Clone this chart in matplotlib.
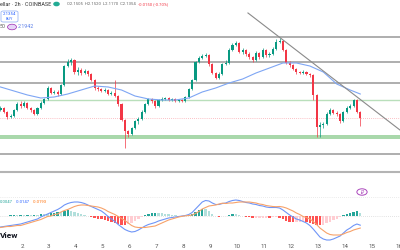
import matplotlib
matplotlib.use('Agg')
import matplotlib.pyplot as plt
from matplotlib.patches import FancyBboxPatch, Circle
import numpy as np

plt.rcParams['font.family'] = ['Roboto', 'DejaVu Sans']

# 2h candles, x axis in days of the month
start_day = 1.2
step = 0.125
first_open = 2.1550
closes = [2.1599, 2.1501, 2.1379, 2.1403, 2.1550, 2.1697, 2.1648, 2.1722, 2.1599, 2.1550,
          2.1452, 2.1599, 2.1722, 2.1820, 2.2089, 2.1967, 2.1991, 2.1942, 2.2162, 2.2628,
          2.2726, 2.2775, 2.2481, 2.2530, 2.2457, 2.2506, 2.2432, 2.2285, 2.2089, 2.2065,
          2.2016, 2.2040, 2.1942, 2.1967, 2.1893, 2.1697, 2.1305, 2.1036, 2.0962, 2.1109,
          2.1281, 2.1330, 2.1501, 2.1697, 2.1820, 2.1771, 2.1648, 2.1795, 2.1820, 2.1844,
          2.1795, 2.1820, 2.1771, 2.1795, 2.1771, 2.1869, 2.2065, 2.2285, 2.2726, 2.2824,
          2.2873, 2.2897, 2.2677, 2.2457, 2.2334, 2.2432, 2.2677, 2.2702, 2.3020, 2.3143,
          2.3192, 2.2971, 2.3020, 2.2922, 2.2849, 2.2775, 2.2947, 2.2849, 2.3020, 2.2898,
          2.2922, 2.3045, 2.3216, 2.3240, 2.3020, 2.2702, 2.2653, 2.2555, 2.2481, 2.2457,
          2.2481, 2.2432, 2.2408, 2.1918, 2.1134, 2.1183, 2.1207, 2.1452, 2.1550, 2.1477,
          2.1452, 2.1281, 2.1501, 2.1599, 2.1648, 2.1795, 2.1505, 2.1354]
highs = [2.1640, 2.1625, 2.1530, 2.1450, 2.1580, 2.1740, 2.1760, 2.1770, 2.1750, 2.1630,
         2.1580, 2.1620, 2.1760, 2.1850, 2.2130, 2.2110, 2.2050, 2.2030, 2.2190, 2.2660,
         2.2800, 2.2830, 2.2800, 2.2600, 2.2580, 2.2560, 2.2540, 2.2460, 2.2310, 2.2130,
         2.2100, 2.2080, 2.2070, 2.2010, 2.2285, 2.1920, 2.1720, 2.1330, 2.1060, 2.1140,
         2.1310, 2.1370, 2.1540, 2.1730, 2.1850, 2.1850, 2.1790, 2.1830, 2.1860, 2.1880,
         2.1870, 2.1850, 2.1840, 2.1830, 2.1810, 2.1900, 2.2100, 2.2320, 2.2760, 2.2880,
         2.2920, 2.2940, 2.2920, 2.2700, 2.2480, 2.2470, 2.2700, 2.2780, 2.3060, 2.3200,
         2.3240, 2.3210, 2.3070, 2.3050, 2.2960, 2.2880, 2.2990, 2.2980, 2.3060, 2.3040,
         2.2960, 2.3090, 2.3290, 2.3314, 2.3260, 2.3040, 2.2740, 2.2680, 2.2580, 2.2510,
         2.2520, 2.2510, 2.2460, 2.2430, 2.1940, 2.1260, 2.1250, 2.1490, 2.1600, 2.1580,
         2.1520, 2.1480, 2.1530, 2.1640, 2.1690, 2.1830, 2.1810, 2.1520]
lows = [2.1520, 2.1470, 2.1330, 2.1350, 2.1380, 2.1530, 2.1610, 2.1620, 2.1570, 2.1510,
        2.1420, 2.1430, 2.1580, 2.1700, 2.1800, 2.1930, 2.1940, 2.1900, 2.1920, 2.2140,
        2.2600, 2.2650, 2.2440, 2.2400, 2.2400, 2.2420, 2.2390, 2.2250, 2.2050, 2.2020,
        2.1980, 2.1990, 2.1910, 2.1920, 2.1860, 2.1660, 2.1270, 2.0619, 2.0900, 2.0930,
        2.1080, 2.1200, 2.1300, 2.1480, 2.1680, 2.1730, 2.1590, 2.1620, 2.1770, 2.1790,
        2.1760, 2.1770, 2.1740, 2.1750, 2.1740, 2.1750, 2.1850, 2.2040, 2.2260, 2.2700,
        2.2790, 2.2840, 2.2640, 2.2420, 2.2300, 2.2310, 2.2400, 2.2650, 2.2680, 2.3000,
        2.3110, 2.2940, 2.2930, 2.2880, 2.2810, 2.2720, 2.2750, 2.2800, 2.2820, 2.2860,
        2.2860, 2.2900, 2.3020, 2.3190, 2.2990, 2.2670, 2.2610, 2.2520, 2.2440, 2.2420,
        2.2430, 2.2400, 2.2370, 2.1790, 2.0890, 2.0890, 2.1120, 2.1180, 2.1420, 2.1440,
        2.1400, 2.1220, 2.1250, 2.1480, 2.1570, 2.1620, 2.1470, 2.1170]

# SMA 50 read at every 4th candle
ma_idx = [0, 4, 8, 12, 16, 20, 24, 28, 32, 36, 40, 44, 48, 52, 56, 60, 64, 68, 72, 76,
          80, 84, 88, 92, 96, 100, 104, 107]
ma50 = [2.2114, 2.2016, 2.1918, 2.1844, 2.1869, 2.1942, 2.2040, 2.2138, 2.2114, 2.2040,
        2.1893, 2.1820, 2.1795, 2.1795, 2.1844, 2.1991, 2.2089, 2.2212, 2.2309, 2.2457,
        2.2579, 2.2702, 2.2702, 2.2628, 2.2481, 2.2187, 2.2040, 2.1942]

macd = [-0.0176, -0.0168, -0.0160, -0.0152, -0.0144, -0.0136, -0.0128, -0.0112, -0.0096, -0.0080,
        -0.0064, -0.0048, -0.0016, 0.0008, 0.0032, 0.0056, 0.0080, 0.0104, 0.0136, 0.0176,
        0.0200, 0.0216, 0.0224, 0.0224, 0.0216, 0.0200, 0.0176, 0.0152, 0.0128, 0.0104,
        0.0080, 0.0040, -0.0008, -0.0048, -0.0088, -0.0136, -0.0176, -0.0216, -0.0240, -0.0256,
        -0.0248, -0.0224, -0.0192, -0.0160, -0.0136, -0.0120, -0.0104, -0.0080, -0.0064, -0.0048,
        -0.0032, -0.0024, -0.0016, -0.0008, 0.0000, 0.0008, 0.0024, 0.0056, 0.0112, 0.0168,
        0.0224, 0.0248, 0.0240, 0.0208, 0.0184, 0.0184, 0.0200, 0.0208, 0.0232, 0.0248,
        0.0256, 0.0248, 0.0232, 0.0216, 0.0208, 0.0192, 0.0184, 0.0168, 0.0160, 0.0144,
        0.0136, 0.0136, 0.0136, 0.0128, 0.0096, 0.0056, 0.0016, -0.0016, -0.0048, -0.0064,
        -0.0088, -0.0112, -0.0152, -0.0208, -0.0272, -0.0336, -0.0368, -0.0384, -0.0384, -0.0368,
        -0.0344, -0.0320, -0.0272, -0.0224, -0.0192, -0.0152, -0.0128, -0.0147]
signal = [-0.0184, -0.0176, -0.0168, -0.0168, -0.0160, -0.0152, -0.0152, -0.0136, -0.0120, -0.0104,
          -0.0088, -0.0072, -0.0056, -0.0032, -0.0008, 0.0000, 0.0024, 0.0032, 0.0064, 0.0088,
          0.0104, 0.0128, 0.0152, 0.0168, 0.0176, 0.0176, 0.0168, 0.0160, 0.0152, 0.0144,
          0.0128, 0.0104, 0.0072, 0.0048, 0.0024, -0.0008, -0.0040, -0.0072, -0.0112, -0.0152,
          -0.0176, -0.0184, -0.0184, -0.0184, -0.0176, -0.0168, -0.0160, -0.0136, -0.0112, -0.0088,
          -0.0064, -0.0048, -0.0032, -0.0016, -0.0005, 0.0003, 0.0008, 0.0016, 0.0040, 0.0072,
          0.0112, 0.0136, 0.0160, 0.0168, 0.0176, 0.0192, 0.0205, 0.0200, 0.0208, 0.0208,
          0.0216, 0.0224, 0.0224, 0.0224, 0.0224, 0.0216, 0.0208, 0.0192, 0.0184, 0.0168,
          0.0160, 0.0152, 0.0149, 0.0152, 0.0144, 0.0128, 0.0104, 0.0080, 0.0048, 0.0024,
          -0.0008, -0.0024, -0.0048, -0.0088, -0.0136, -0.0192, -0.0232, -0.0272, -0.0296, -0.0304,
          -0.0304, -0.0304, -0.0288, -0.0264, -0.0248, -0.0224, -0.0208, -0.0193]

levels = [2.3340, 2.2726, 2.2212, 2.0472]
green_level = 2.1795
support_band = (2.0838, 2.0937)
trend_days = [10.40, 16.05]
trend_prices = [2.3927, 2.1060]
last_price = 2.1354
day_ticks = list(range(2, 17))

UP = '#089981'
DOWN = '#f23645'

n = len(closes)
x = start_day + step * np.arange(n)
c = np.array(closes)
o = np.concatenate([[first_open], c[:-1]])
h = np.array(highs)
l = np.array(lows)

fig = plt.figure(figsize=(4, 2.5), dpi=100)
W, H = 400.0, 250.0
ax = fig.add_axes([0, 1 - 172 / H, 1, 172 / H])
ax2 = fig.add_axes([0, 1 - 242 / H, 1, 70 / H], sharex=ax)

# price pane
for lv in levels:
    ax.axhline(lv, color='#a8a8a8', lw=1.3, zorder=1)
ax.axhline(green_level, color='#b9dfbb', lw=1.0, zorder=1)
ax.axhspan(support_band[0], support_band[1], color='#a9d8ab', lw=0, zorder=1)
ax.axhline(last_price, color=DOWN, lw=0.5, ls=(0, (1, 2)), alpha=0.6, zorder=1)

cols = np.where(c >= o, UP, DOWN)
ax.vlines(x, l, h, colors=cols, lw=0.5, zorder=3)
body = np.where(np.abs(c - o) < 0.0008, 0.0008, c - o)
ax.bar(x, body, bottom=o, width=step * 0.62, color=cols, lw=0, zorder=4)

ax.plot(x[ma_idx], ma50, color='#7ea6f4', lw=0.8, zorder=5)
ax.plot(trend_days, trend_prices, color='#8a8a8a', lw=0.8, zorder=6)

ax.set_xlim(1.182, 16.052)
ax.set_ylim(2.0031, 2.4245)
ax.axis('off')

# MACD pane
hist = np.array(macd) - np.array(signal)
hcols = []
for i, v in enumerate(hist):
    prev = hist[i - 1] if i > 0 else 0
    if v >= 0:
        hcols.append('#26a69a' if v > prev else '#b2dfdb')
    else:
        hcols.append('#ff5252' if v < prev else '#ffcdd2')
ax2.bar(x, hist, width=step * 0.7, color=hcols, lw=0, zorder=2)
ax2.axhline(0, color='#c8c8c8', lw=0.5, ls=(0, (1, 2)), zorder=1)
ax2.axhline(0.0304, color='#d8d8d8', lw=0.5, ls=(0, (1, 2)), zorder=1)
ax2.plot(x, macd, color='#6f95f7', lw=0.8, zorder=3)
ax2.plot(x, signal, color='#f7a26a', lw=0.8, zorder=3)
ax2.set_ylim(-0.0416, 0.0704)
for s in ['left', 'right', 'bottom']:
    ax2.spines[s].set_visible(False)
ax2.spines['top'].set_color('#b4b4b4')
ax2.spines['top'].set_linewidth(1.5)
ax2.set_yticks([])
ax2.set_xticks(day_ticks)
ax2.set_xticklabels([str(d) for d in day_ticks], fontsize=4.5, color='#555555')
ax2.tick_params(axis='x', length=0, pad=1.5)


def ftext(px, py, s, **kw):
    return fig.text(px / W, 1 - py / H, s, va='center', **kw)


def chain(on, prev, s, gap=1.5, **kw):
    # place text right after the previous one
    return on.annotate(s, xy=(1, 0.5), xycoords=prev, xytext=(gap, 0),
                       textcoords='offset points', va='center', ha='left',
                       annotation_clip=False, **kw)


# header texts
ftext(0, 4, 'ellar · 2h · COINBASE', fontsize=4.0, color='#333333')
fig.patches.append(Circle((56.5 / W, 1 - 4 / H), 1.6 / H, transform=fig.transFigure,
                          color='#22ab94', zorder=5))
t = ftext(67, 4, 'O2.1505  H2.1520  L2.1170  C2.1354', fontsize=3.0, color='#666666')
chain(ax, t, '-0.0150 (-0.70%)', fontsize=3.0, color=DOWN)
fig.patches.append(FancyBboxPatch((1 / W, 1 - 22 / H), 17 / W, 11 / H,
                                  boxstyle='round,pad=0,rounding_size=0.006',
                                  transform=fig.transFigure, fc='white',
                                  ec='#9db7f5', lw=0.6, zorder=5))
ftext(9.5, 14, '2.1354', fontsize=3.2, color='#2962ff', ha='center', zorder=6)
ftext(9.5, 19.5, 'BUY', fontsize=2.8, color='#2962ff', ha='center', zorder=6)
ftext(0, 27, '50', fontsize=3.8, color='#555555')
fig.patches.append(Circle((12 / W, 1 - 27 / H), 2.8 / H, transform=fig.transFigure,
                          fc='#e6d4f7', ec='#9c27b0', lw=0.5, zorder=5))
ftext(18, 27, '2.1942', fontsize=3.8, color='#5b7fe8')

t = ftext(0, 202, '0.0047', fontsize=3.0, color='#26a69a')
t = chain(ax2, t, '-0.0147', gap=2, fontsize=3.0, color='#2962ff')
chain(ax2, t, '-0.0193', gap=2, fontsize=3.0, color='#ff6d00')
ftext(0, 236, 'View', fontsize=6, color='#131722', fontweight='bold')
fig.patches.append(Circle((362 / W, 1 - 192 / H), 3.2 / H, transform=fig.transFigure,
                          fc='white', ec='#ab47bc', lw=0.7, zorder=5))
ftext(362, 192, '₽', fontsize=3.5, color='#ab47bc', ha='center', zorder=6)

fig.savefig('out.png', dpi=100)
